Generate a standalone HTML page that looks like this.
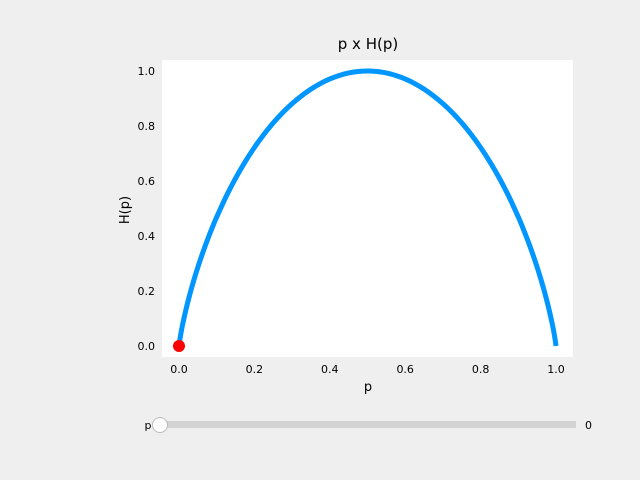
<!DOCTYPE html>
<html><head><meta charset="utf-8"><style>
body{margin:0;background:#efefef;}
svg{display:block;font-family:"DejaVu Sans","Liberation Sans",sans-serif;}
</style></head><body>
<svg id="chart" width="640" height="480">
<rect x="0" y="0" width="640" height="480" fill="#efefef"/>
<rect x="162" y="60" width="411" height="297" fill="#ffffff"/>
<text x="368" y="49" font-size="15" text-anchor="middle" fill="#000">p x H(p)</text>
<text x="368" y="391" font-size="13" text-anchor="middle" fill="#000">p</text>
<text x="129" y="210" font-size="13" text-anchor="middle" fill="#000" transform="rotate(-90 129 210)">H(p)</text>
<g id="xticks"></g><g id="yticks"></g><g id="series"></g>
<text x="148" y="429" font-size="11" text-anchor="middle" fill="#000">p</text>
<rect x="160" y="421" width="416" height="7" fill="#d3d3d3"/>
<circle cx="160" cy="425" r="7.5" fill="#ffffff" stroke="#bbbbbb" stroke-width="1"/>
<text x="585" y="429" font-size="11" fill="#000">0</text>
</svg>
<script>
const pValues=[0,0.001,0.005,0.01,0.02,0.03,0.04,0.05,0.06,0.07,0.08,0.09,0.1,0.125,0.15,0.175,0.2,0.225,0.25,0.275,0.3,0.325,0.35,0.375,0.4,0.425,0.45,0.475,0.5,0.525,0.55,0.575,0.6,0.625,0.65,0.675,0.7,0.725,0.75,0.775,0.8,0.825,0.85,0.875,0.9,0.91,0.92,0.93,0.94,0.95,0.96,0.97,0.98,0.99,0.995,0.999,1];
const hValues=[0,0.0114,0.0454,0.0808,0.1414,0.1944,0.2423,0.2864,0.3274,0.3659,0.4022,0.4365,0.469,0.5436,0.6098,0.669,0.7219,0.7692,0.8113,0.8485,0.8813,0.9097,0.9341,0.9544,0.971,0.9837,0.9928,0.9982,1,0.9982,0.9928,0.9837,0.971,0.9544,0.9341,0.9097,0.8813,0.8485,0.8113,0.7692,0.7219,0.669,0.6098,0.5436,0.469,0.4365,0.4022,0.3659,0.3274,0.2864,0.2423,0.1944,0.1414,0.0808,0.0454,0.0114,0];
const xTickLabels=["0.0","0.2","0.4","0.6","0.8","1.0"];
const yTickLabels=["0.0","0.2","0.4","0.6","0.8","1.0"];
const markerP=[0];
const markerH=[0];
const NS="http://www.w3.org/2000/svg";
function xs(v){return 179+v*377;}
function ys(v){return 346-v*275;}
const xt=document.getElementById('xticks');
xTickLabels.forEach(l=>{const v=parseFloat(l);
 const s=document.createElementNS(NS,'text');s.setAttribute('x',xs(v));s.setAttribute('y',373);s.setAttribute('font-size','11');s.setAttribute('text-anchor','middle');s.textContent=l;
 
 xt.appendChild(s);});
const yt=document.getElementById('yticks');
yTickLabels.forEach(l=>{const v=parseFloat(l);
 const s=document.createElementNS(NS,'text');s.setAttribute('x',155);s.setAttribute('y',ys(v)+4);s.setAttribute('font-size','11');s.setAttribute('text-anchor','end');s.textContent=l;
 
 yt.appendChild(s);});
const g=document.getElementById('series');
const pts=pValues.map((p,i)=>[xs(p),ys(hValues[i])]);
let d='M'+pts[0][0]+','+pts[0][1];
for(let i=0;i<pts.length-1;i++){
 const p0=pts[Math.max(i-1,0)],p1=pts[i],p2=pts[i+1],p3=pts[Math.min(i+2,pts.length-1)];
 const c1=[p1[0]+(p2[0]-p0[0])/6,p1[1]+(p2[1]-p0[1])/6];
 const c2=[p2[0]-(p3[0]-p1[0])/6,p2[1]-(p3[1]-p1[1])/6];
 d+=' C'+c1[0]+','+c1[1]+' '+c2[0]+','+c2[1]+' '+p2[0]+','+p2[1];
}
const path=document.createElementNS(NS,'path');
path.setAttribute('d',d);
path.setAttribute('fill','none');path.setAttribute('stroke','#0096ff');path.setAttribute('stroke-width','5');path.setAttribute('stroke-linejoin','round');


g.appendChild(path);
markerP.forEach((p,i)=>{const c=document.createElementNS(NS,'circle');c.setAttribute('cx',xs(p));c.setAttribute('cy',ys(markerH[i]));c.setAttribute('r',6);c.setAttribute('fill','#ff0000');
 
 g.appendChild(c);});
</script>
</body></html>
